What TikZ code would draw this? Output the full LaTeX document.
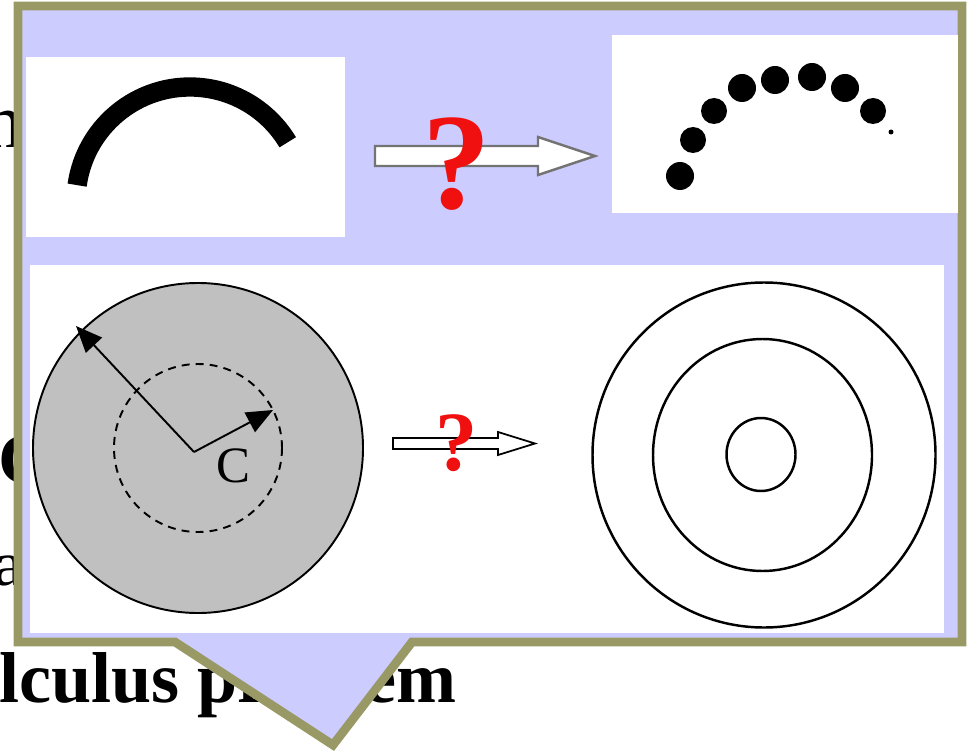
\documentclass[tikz,border=0pt]{standalone}
\usepackage{fontspec}
\setmainfont{Liberation Serif}
\usetikzlibrary{arrows.meta,positioning}
\definecolor{calloutfill}{HTML}{CCCCFF}
\definecolor{calloutedge}{HTML}{999966}
\definecolor{diskgray}{HTML}{C0C0C0}
\definecolor{qred}{HTML}{F01010}
\tikzset{callout/.style={fill=calloutfill,draw=calloutedge,line width=5pt,line join=miter},
 panel/.style={fill=white},
 bgbold/.style={inner sep=0,font=\bfseries\fontsize{41}{45}\selectfont},
 bgtext/.style={inner sep=0,font=\fontsize{30}{34}\selectfont},
 quest/.style={inner sep=0,anchor=base,text=qred},
 hollowtop/.style={fill=white,draw=black!55,line width=1.4pt,line join=miter},
 hollowlow/.style={fill=white,draw=black,line width=1pt,line join=miter},
 vec/.style={-{Triangle[length=15pt,width=12.5pt]},line width=1.1pt},
 ring/.style={draw=black,line width=1.4pt}}

\begin{document}
\begin{tikzpicture}[x=0.02cm,y=-0.02cm]
\useasboundingbox (0,0) rectangle (969,753);
% slide text behind the callout
\node[bgbold,anchor=base west] (calc) at (-1,702) {lculus problem};
\node[bgtext,font=\fontsize{44}{48}\selectfont,anchor=base east] (tailn) at (24,148) {n};
\node[bgbold,anchor=base west] (headc) at (-2,483) {C};
\node[bgtext,font=\fontsize{36}{40}\selectfont,anchor=base east] (taila) at (23,585) {a};
% callout
\path[callout] (18,6) -- (962,6) -- (962,642) -- (412,642) -- (333,745)
 -- (175,642) -- (18,642) -- cycle;
\fill[panel] (26,57) rectangle (345,237);
\fill[panel] (612,35) rectangle (958,213);
\fill[panel] (30,265) rectangle (944,633);
% continuous wire and beads
\draw[line width=11pt] (190,201) ++(-172:114) arc[start angle=-172,end angle=-31,radius=114];
\draw[hollowtop] (375,146) -- (538,146) -- (538,137) -- (595,156) -- (538,175)
 -- (538,166) -- (375,166) -- cycle;
\node[quest,font=\bfseries\fontsize{78}{80}\selectfont] (q1) at (457,208) {?};
\foreach \bx/\by/\br in {680/176/14,693/140/13,714/111/13,742/88/14,775/80/14,
 812/77/14,845/88/14,873/111/13,891/132/2.5}
 \fill (\bx,\by) circle[radius=\br];
% charged disk and rings
\draw[fill=diskgray,line width=1.1pt] (198,448) circle[radius=165];
\draw[dashed,line width=1.1pt,dash pattern=on 4.5pt off 3.5pt] (198,448) circle[radius=84];
\coordinate (ctr) at (194,452);
\coordinate (outtip) at (76,326);
\coordinate (intip) at (273,410);
\draw[vec] (ctr) -- (outtip);
\draw[vec] (ctr) -- (intip);
\node[inner sep=0,anchor=base,font=\fontsize{29}{32}\selectfont] (clab) at (233,482) {C};
\draw[hollowlow] (393,438) -- (498,438) -- (498,432) -- (535,443.5) -- (498,455)
 -- (498,449) -- (393,449) -- cycle;
\node[quest,font=\bfseries\fontsize{48}{50}\selectfont] (q2) at (457,470) {?};
\draw[ring] (764,455) ellipse[x radius=171.5,y radius=172.5];
\draw[ring] (762.5,455) ellipse[x radius=109.5,y radius=116];
\draw[ring] (761,454.5) ellipse[x radius=34.5,y radius=36.5];
\end{tikzpicture}
\end{document}
